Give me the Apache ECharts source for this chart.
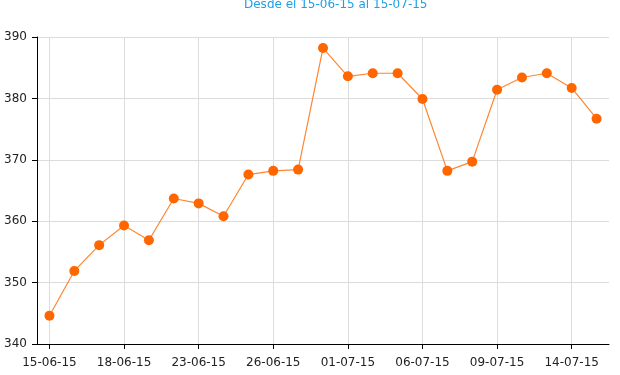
<!DOCTYPE html>
<html><head><meta charset="utf-8">
<script src="https://cdn.jsdelivr.net/npm/echarts@6/dist/echarts.min.js"></script>
<style>html,body{margin:0;padding:0;background:#fff}#c{width:620px;height:375px}</style>
</head><body><div id="c"></div>
<script>
const titleText = 'Desde el 15-06-15 al 15-07-15';
const categories = ['15-06-15','16-06-15','17-06-15','18-06-15','19-06-15','22-06-15','23-06-15','24-06-15','25-06-15','26-06-15','29-06-15','30-06-15','01-07-15','02-07-15','03-07-15','06-07-15','07-07-15','08-07-15','09-07-15','10-07-15','13-07-15','14-07-15','15-07-15'];
const values = [344.6,351.9,356.1,359.3,356.9,363.7,362.9,360.8,367.6,368.2,368.4,388.2,383.6,384.1,384.1,379.9,368.2,369.7,381.4,383.4,384.1,381.7,376.7];
const yMin = 340, yMax = 390, yStep = 10;

const chart = echarts.init(document.getElementById('c'));
chart.setOption({
  animation: false,
  title: {
    text: titleText, left: 244, top: -1, padding: 0,
    textStyle: {color: '#1ea0e6', fontSize: 12, fontWeight: 'normal', fontFamily: 'DejaVu Sans'}
  },
  grid: {left: 37, top: 37, right: 11, bottom: 31, containLabel: false},
  xAxis: {
    type: 'category', data: categories, boundaryGap: true,
    axisLine: {lineStyle: {color: '#000', width: 1}},
    axisTick: {show: true, interval: 2, alignWithLabel: true, length: 5, lineStyle: {color: '#000'}},
    axisLabel: {interval: 2, margin: 13, color: '#222', fontSize: 12, fontFamily: 'DejaVu Sans'},
    splitLine: {show: true, interval: 2, alignWithLabel: true, lineStyle: {color: '#dcdcdc', width: 1}}
  },
  yAxis: {
    type: 'value', min: yMin, max: yMax, interval: yStep,
    axisLine: {show: true, lineStyle: {color: '#000', width: 1}},
    axisTick: {show: true, length: 5, lineStyle: {color: '#000'}},
    axisLabel: {margin: 10, color: '#222', fontSize: 12, fontFamily: 'DejaVu Sans'},
    splitLine: {show: true, lineStyle: {color: '#dcdcdc', width: 1}}
  },
  series: [{
    type: 'line', data: values,
    symbol: 'circle', symbolSize: 10,
    itemStyle: {color: '#ff6600'},
    lineStyle: {color: '#ff8533', width: 1.2}
  }]
});
</script></body></html>
